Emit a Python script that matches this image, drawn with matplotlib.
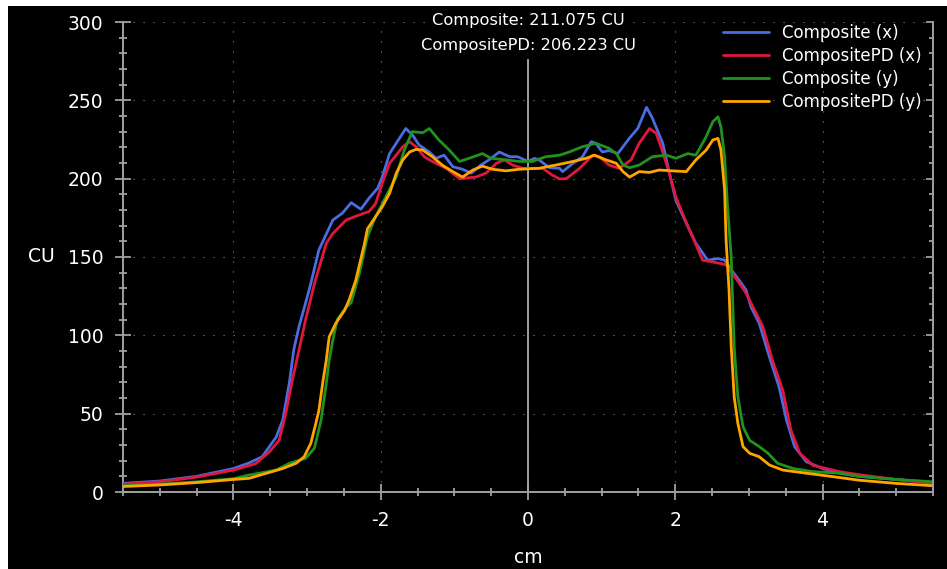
import matplotlib
matplotlib.use('Agg')
import matplotlib.pyplot as plt
from matplotlib.patches import Rectangle
from matplotlib.ticker import MultipleLocator

plt.rcParams['font.family'] = ['DejaVu Sans']
plt.rcParams['axes.unicode_minus'] = False

# ---------------- data ----------------
series_names = ['Composite (x)', 'CompositePD (x)', 'Composite (y)', 'CompositePD (y)']
annotations = ['Composite: 211.075 CU', 'CompositePD: 206.223 CU']

blue_x = [-5.5, -5.0, -4.5, -4.0, -3.79, -3.61, -3.42, -3.33, -3.24, -3.18, -3.11, -3.03, -2.95, -2.84,
          -2.65, -2.52, -2.40, -2.27, -2.16, -2.04, -1.98, -1.88, -1.79, -1.66,
          -1.57, -1.48, -1.34, -1.25, -1.14, -1.02, -0.89, -0.77, -0.64, -0.53,
          -0.39, -0.25, -0.14, 0.0, 0.09, 0.15, 0.29, 0.43, 0.47, 0.61,
          0.74, 0.86, 0.92, 1.01, 1.10, 1.22, 1.38, 1.49, 1.61, 1.69,
          1.83, 1.92, 2.01, 2.15, 2.28, 2.44, 2.58, 2.67, 2.78, 2.87,
          2.96, 3.03, 3.14, 3.28, 3.41, 3.51, 3.62, 3.78, 4.0, 4.23,
          4.5, 5.0, 5.5]
blue_y = [5.5, 7, 10, 15, 18.5, 22.5, 35, 46, 70, 91, 105.5, 119, 133, 154.5,
          173.6, 178, 184.7, 180.5, 187.5, 194, 201, 216, 222.6, 232,
          228, 221.5, 217, 213, 215, 207.6, 206, 203.5, 208.7, 212,
          217, 214, 214, 211, 213, 212, 207, 206.6, 204.5, 209.8,
          214, 223.6, 222.6, 217, 218, 216, 226, 232, 245.5, 238.5,
          222.6, 203.5, 186, 171.5, 158.7, 148, 149, 148, 140.6, 135,
          129, 118, 107.7, 86, 67, 46, 29, 19.3, 15, 12,
          10, 8, 6]

red_x = [-5.5, -5.0, -4.5, -4.0, -3.70, -3.51, -3.38, -3.29, -3.20, -3.11, -3.02,
         -2.90, -2.74, -2.65, -2.47, -2.34, -2.16, -2.07, -1.98, -1.88, -1.79,
         -1.70, -1.61, -1.52, -1.41, -1.30, -1.11, -0.93, -0.71, -0.57, -0.43,
         -0.32, -0.21, -0.07, 0.20, 0.33, 0.43, 0.52, 0.70, 0.88, 0.97,
         1.10, 1.24, 1.40, 1.51, 1.65, 1.74, 1.83, 1.92, 2.01, 2.15,
         2.28, 2.37, 2.60, 2.69, 2.80, 2.96, 3.19, 3.32, 3.46, 3.57,
         3.69, 3.87, 4.05, 4.23, 4.5, 5.0, 5.5]
red_y = [5, 6.5, 9.5, 14, 18, 25.7, 33, 50, 71.5, 90.6, 110,
         133, 158.7, 165, 173.6, 176, 179, 184, 197, 209.8, 215,
         220.4, 223.6, 220.4, 214, 211, 206.6, 200, 201, 203.5, 209.8,
         212, 208.7, 206.6, 206.6, 202.3, 199.8, 200, 206.6, 215, 214,
         208.7, 206.6, 212, 222.6, 232, 229, 217, 203.5, 188, 172,
         158, 148, 146, 145, 138, 127, 105.5, 84, 65, 39.6,
         24.7, 17, 15, 13, 11, 8, 5.5]

green_x = [-5.5, -5.0, -4.5, -4.0, -3.79, -3.42, -3.24, -3.02, -2.90, -2.81,
           -2.74, -2.70, -2.65, -2.59, -2.47, -2.40, -2.29, -2.18, -2.07, -1.93,
           -1.79, -1.68, -1.57, -1.43, -1.34, -1.21, -1.07, -0.93, -0.80, -0.62,
           -0.50, -0.30, -0.12, 0.06, 0.24, 0.43, 0.56, 0.74, 0.92, 1.10,
           1.20, 1.29, 1.38, 1.51, 1.69, 1.88, 2.01, 2.17, 2.28, 2.42,
           2.51, 2.58, 2.62, 2.67, 2.71, 2.76, 2.80, 2.85, 2.92, 3.01,
           3.14, 3.26, 3.39, 3.60, 3.87, 4.23, 4.5, 5.0, 5.5]
green_y = [4, 5, 6.5, 8.5, 10.8, 14, 18.3, 21.5, 28, 46,
           69, 84, 97, 110, 118, 121, 139.6, 163, 175.7, 188.5,
           201, 218.3, 230, 229.3, 232, 224.7, 218.3, 211, 213, 216,
           213, 212, 211, 211, 214, 215, 217, 220.4, 222.6, 219.4,
           216, 208.7, 207, 208.7, 214, 215, 213, 216, 215, 226.8,
           236.4, 239.5, 233, 214, 182, 150, 92.7, 60.8, 41.7, 33,
           29, 24.7, 18.3, 15, 13, 12, 10, 8, 6.5]

orange_x = [-5.5, -5.0, -4.5, -4.0, -3.79, -3.33, -3.15, -3.04, -2.95, -2.88,
            -2.84, -2.79, -2.74, -2.70, -2.61, -2.49, -2.43, -2.34, -2.22, -2.18,
            -2.07, -1.98, -1.88, -1.79, -1.70, -1.61, -1.52, -1.43, -1.30, -1.16,
            -1.02, -0.89, -0.75, -0.62, -0.48, -0.30, -0.12, 0.15, 0.38, 0.61,
            0.79, 0.90, 1.06, 1.20, 1.29, 1.38, 1.51, 1.65, 1.78, 1.96,
            2.15, 2.28, 2.42, 2.51, 2.58, 2.62, 2.67, 2.69, 2.73, 2.76,
            2.80, 2.85, 2.92, 3.01, 3.14, 3.28, 3.46, 3.78, 4.14, 4.5,
            5.0, 5.5]
orange_y = [3.5, 4.5, 6, 8, 8.7, 15, 18.3, 22.5, 31, 44,
            52, 69, 84, 99, 107.7, 116, 122.5, 135, 158.7, 168,
            175.7, 182, 190.6, 203.4, 212, 217, 218.7, 218.3, 214, 208.5,
            204.5, 201, 205.5, 208, 206, 205, 206, 206.6, 208.7, 211,
            213, 215, 212, 209.8, 204.5, 201, 204.5, 204, 205.5, 205,
            204.5, 212, 218.3, 224.7, 225.7, 218.3, 192.8, 160.8, 129, 92.7,
            60.8, 43.8, 29, 24.7, 22.5, 17.2, 14, 12, 9.8, 7.5,
            5.5, 4]

# ---------------- style ----------------
colors = ['#4a6de0', '#e0183f', '#21921f', '#ffa500']
gray = '#a0a0a0'

W, H = 947, 569
fig = plt.figure(figsize=(W / 100, H / 100), dpi=100, facecolor='white')
fig.patches.append(Rectangle((8 / W, 0), 1 - 8 / W, 1 - 6 / H, transform=fig.transFigure,
                             facecolor='black', edgecolor='none', zorder=-10))

ax = fig.add_axes([123 / W, 77 / H, 810 / W, 470 / H])
ax.set_facecolor('black')
ax.set_xlim(-5.5, 5.5)
ax.set_ylim(0, 300)

for s in ['top', 'right']:
    ax.spines[s].set_visible(False)
for s in ['left', 'bottom']:
    ax.spines[s].set_color(gray)
    ax.spines[s].set_linewidth(1.4)

ax.xaxis.set_major_locator(MultipleLocator(2))
ax.xaxis.set_minor_locator(MultipleLocator(0.5))
ax.yaxis.set_major_locator(MultipleLocator(50))
ax.yaxis.set_minor_locator(MultipleLocator(10))
ax.tick_params(which='major', direction='inout', length=11.5, width=1.3, color=gray,
               labelcolor='white', labelsize=13.5)
ax.tick_params(which='minor', direction='inout', length=5.75, width=1.3, color=gray)
ax.tick_params(axis='y', which='major', pad=8.5)
ax.tick_params(axis='x', which='major', pad=8)

ax.grid(which='major', color='#8a8a8a', linestyle=(0, (1, 8)), linewidth=0.8)
ax.set_axisbelow(True)
ax.axvline(0, color='#a8a8a8', lw=1.3, zorder=1.5)

series = [(blue_x, blue_y), (red_x, red_y), (green_x, green_y), (orange_x, orange_y)]
for (xs, ys), c, name in zip(series, colors, series_names):
    ax.plot(xs, ys, color=c, lw=2.0, label=name, zorder=3,
            solid_joinstyle='round', solid_capstyle='round')

leg = ax.legend(loc='upper right', frameon=False, fontsize=12, labelcolor='white',
                handlelength=2.8, handletextpad=0.75, labelspacing=0.3,
                borderaxespad=0.3, bbox_to_anchor=(1.0, 1.0 + 10 / 470))

ax.set_ylabel('CU', color='white', fontsize=13.5, rotation=0, ha='center', va='center')
ax.yaxis.set_label_coords(-0.101, 0.5)
ax.set_xlabel('cm', color='white', fontsize=13.5, va='center')
ax.xaxis.set_label_coords(0.5, -0.14)

for txt, yy in zip(annotations, [1.004, 0.949]):
    ax.text(0.5, yy, txt, transform=ax.transAxes, ha='center', va='center', color='white',
            fontsize=11.7, zorder=6, bbox=dict(facecolor='black', edgecolor='none', pad=4))

# right spine with inward ticks
ax2 = ax.twinx()
ax2.set_ylim(0, 300)
ax2.yaxis.set_major_locator(MultipleLocator(50))
ax2.yaxis.set_minor_locator(MultipleLocator(10))
for s in ['top', 'left', 'bottom']:
    ax2.spines[s].set_visible(False)
ax2.spines['right'].set_color(gray)
ax2.spines['right'].set_linewidth(1.4)
ax2.tick_params(which='major', direction='in', length=5, width=1.3, color=gray, labelright=False)
ax2.tick_params(which='minor', direction='in', length=3, width=1.3, color=gray)

fig.savefig('out.png', dpi=100, facecolor=fig.get_facecolor())
